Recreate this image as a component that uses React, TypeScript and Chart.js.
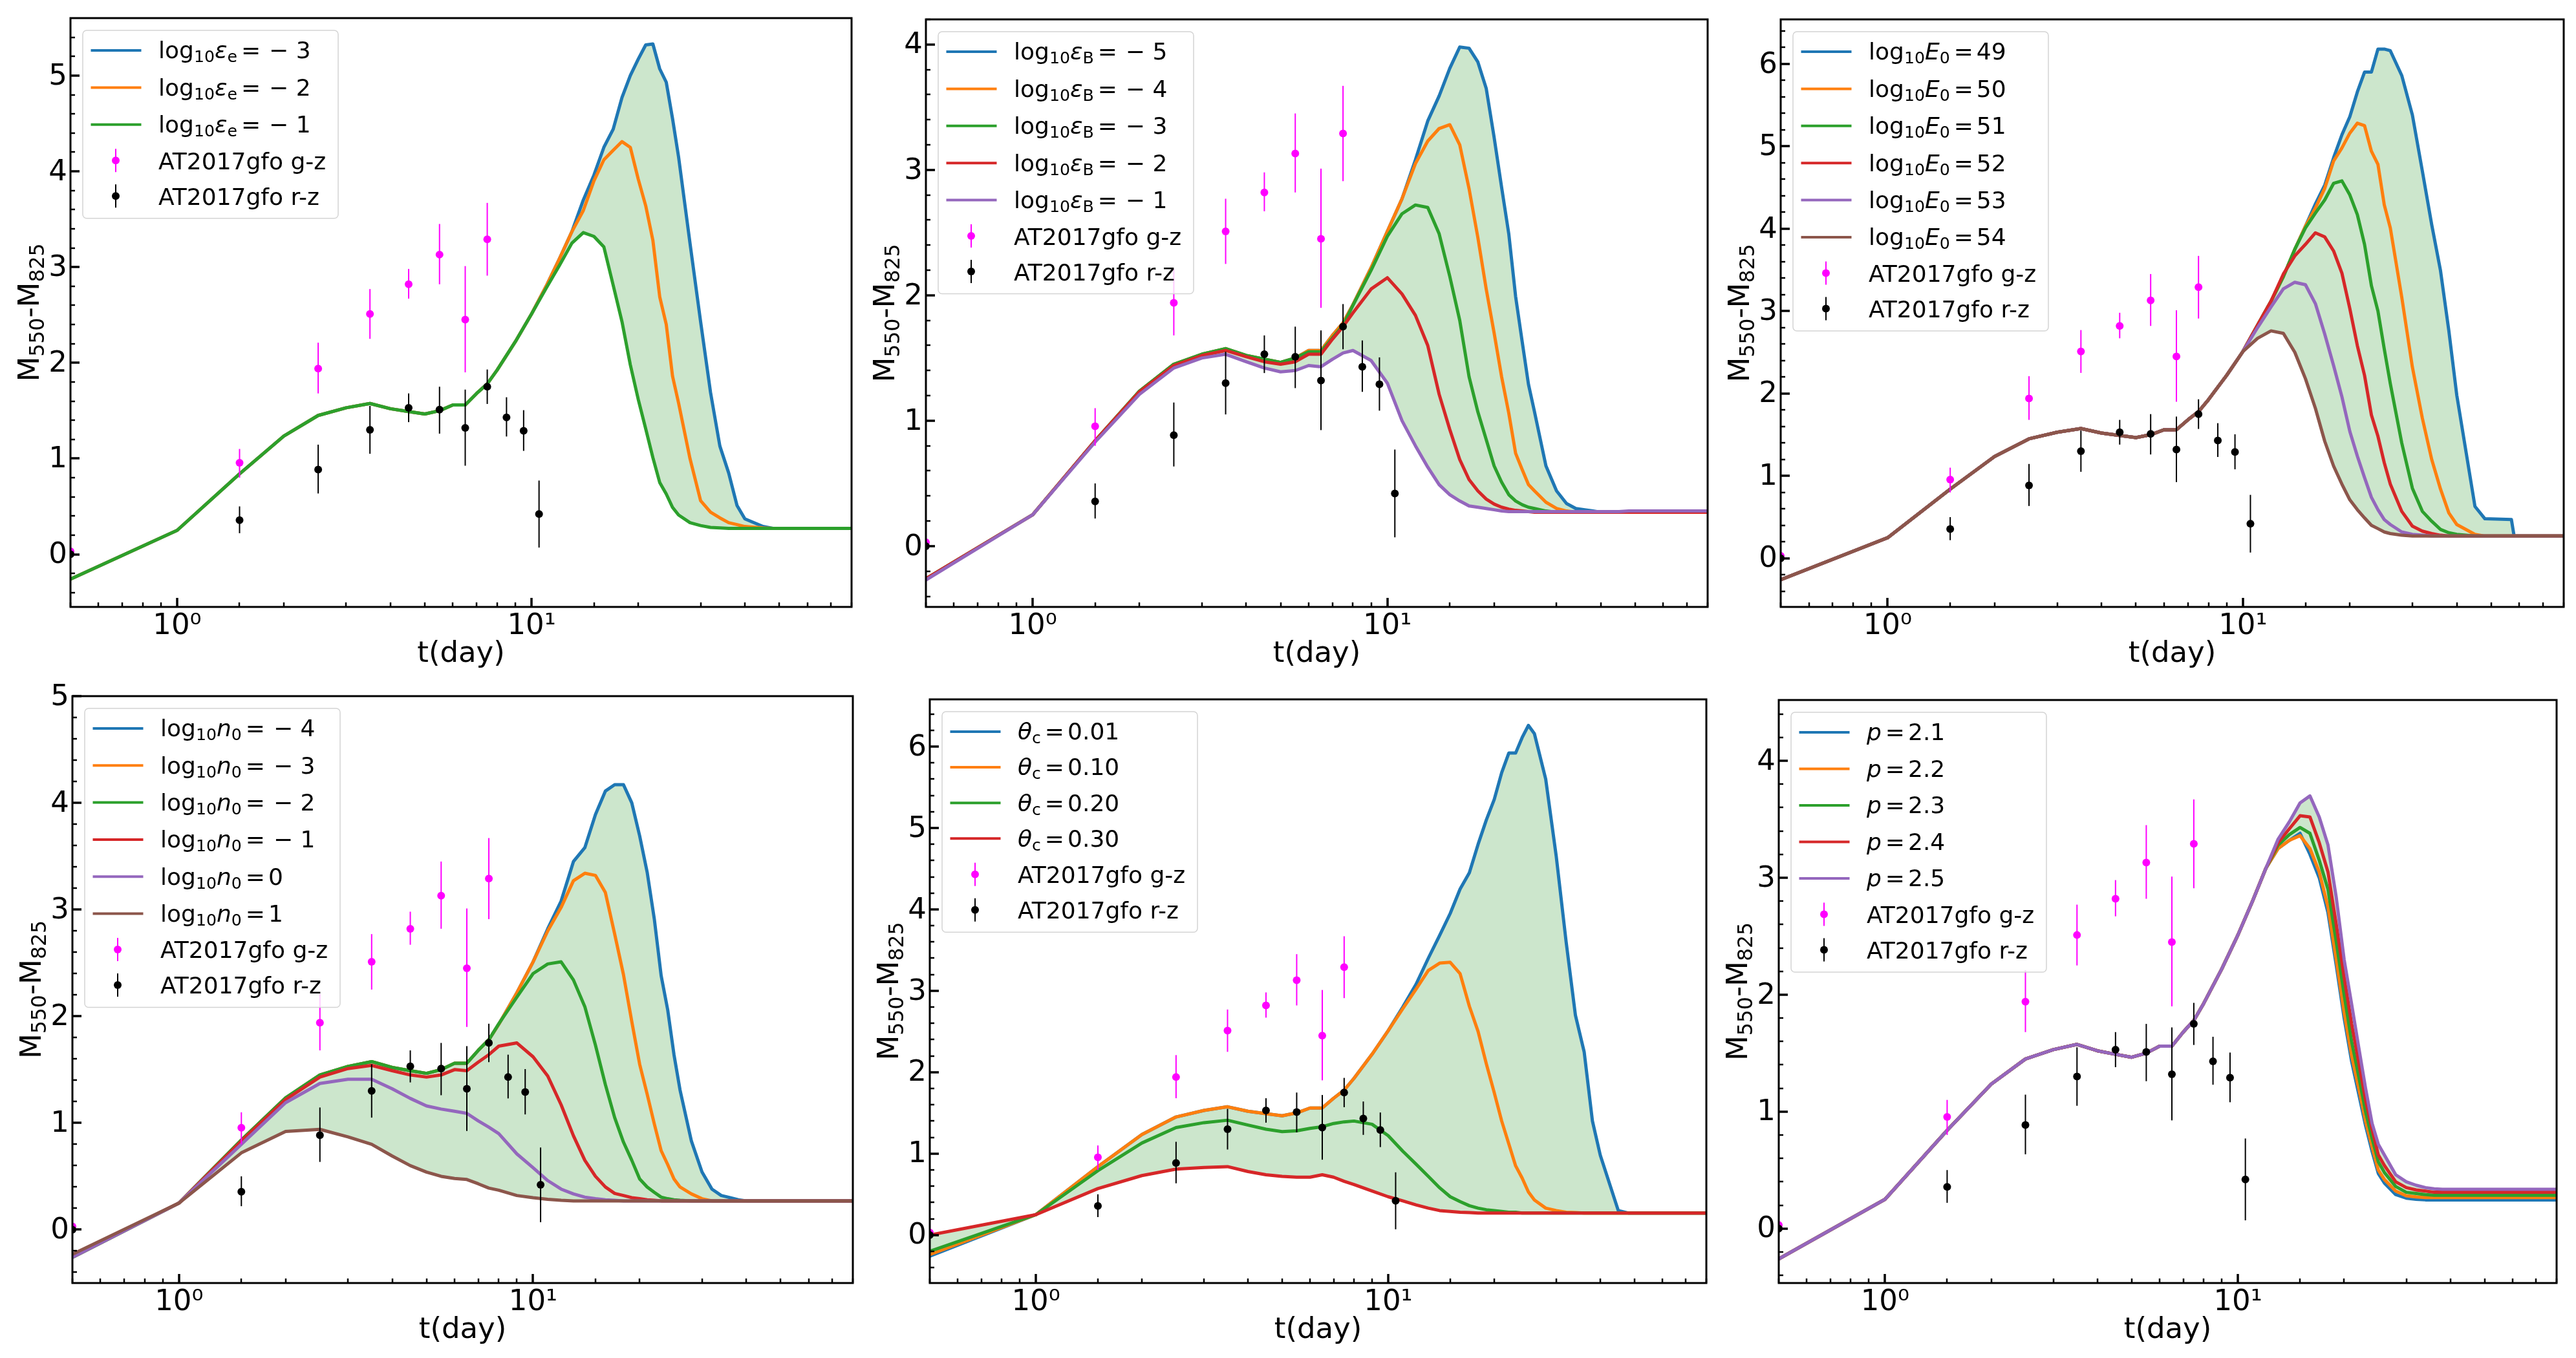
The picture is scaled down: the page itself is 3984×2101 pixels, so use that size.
import React, { useEffect, useRef } from 'react'
import Chart from 'chart.js/auto'

const FONT = '"DejaVu Sans"'
const COLORS = ['#1f77b4', '#ff7f0e', '#2ca02c', '#d62728', '#9467bd', '#8c564b']

// days, shared by every model curve
const T = [
  0.5, 1, 1.5, 2, 2.5, 3, 3.5, 4, 4.5, 5, 5.5, 6, 6.5, 7, 7.5, 8, 9, 10,
  11, 12, 13, 14, 15, 16, 17, 18, 19, 20, 21, 22, 23, 24, 25, 26, 28, 30, 32, 34, 36, 38, 40, 45, 48, 57, 58, 80,
]

// common early part of the curve (t <= 10)
const EARLY = [-0.26, 0.25, 0.84, 1.235, 1.45, 1.53, 1.575, 1.52, 1.49, 1.465, 1.5, 1.56, 1.56, 1.68, 1.78, 1.925, 2.22, 2.51]

// epsilon_e panel
const EE_3 = [...EARLY, 2.8, 3.09, 3.37, 3.7, 3.96, 4.25, 4.44, 4.77, 5.0, 5.17, 5.32, 5.33, 5.07, 4.93, 4.55, 4.15, 3.25, 2.43, 1.69, 1.13, 0.85, 0.51, 0.37, 0.29, 0.27, 0.27, 0.27, 0.27]
const EE_2 = [...EARLY, 2.8, 3.09, 3.37, 3.59, 3.9, 4.12, 4.22, 4.31, 4.25, 3.92, 3.64, 3.28, 2.69, 2.4, 1.86, 1.58, 1.0, 0.56, 0.44, 0.38, 0.33, 0.31, 0.29, 0.275, 0.27, 0.27, 0.27, 0.27]
const EE_1 = [...EARLY, 2.78, 3.02, 3.25, 3.36, 3.32, 3.21, 2.81, 2.43, 1.98, 1.62, 1.31, 1.01, 0.75, 0.63, 0.49, 0.41, 0.33, 0.3, 0.28, 0.275, 0.27, 0.27, 0.27, 0.27, 0.27, 0.27, 0.27, 0.27]

// epsilon_B panel
const EB_5 = [...EARLY, 2.77, 3.08, 3.39, 3.59, 3.81, 3.98, 3.97, 3.86, 3.65, 3.26, 2.86, 2.49, 1.99, 1.63, 1.29, 1.07, 0.64, 0.44, 0.34, 0.3, 0.29, 0.28, 0.27, 0.27, 0.27, 0.27, 0.27, 0.27]
const EB_4 = [...EARLY, 2.77, 3.05, 3.23, 3.33, 3.36, 3.2, 2.85, 2.46, 2.05, 1.7, 1.35, 1.06, 0.74, 0.61, 0.49, 0.44, 0.35, 0.3, 0.28, 0.27, 0.27, 0.27, 0.27, 0.27, 0.27, 0.27, 0.27, 0.27]
const EB_3 = [-0.26, 0.25, 0.84, 1.235, 1.45, 1.53, 1.575, 1.52, 1.49, 1.465, 1.5, 1.55, 1.55, 1.66, 1.76, 1.92, 2.2, 2.47, 2.65, 2.72, 2.7, 2.49, 2.15, 1.8, 1.35, 1.07, 0.85, 0.64, 0.51, 0.41, 0.36, 0.33, 0.31, 0.3, 0.28, 0.27, 0.27, 0.27, 0.27, 0.27, 0.27, 0.27, 0.27, 0.27, 0.27, 0.27]
const EB_2 = [-0.26, 0.25, 0.84, 1.23, 1.44, 1.52, 1.56, 1.51, 1.47, 1.45, 1.47, 1.53, 1.53, 1.65, 1.75, 1.86, 2.05, 2.14, 2.01, 1.84, 1.6, 1.21, 0.93, 0.69, 0.53, 0.44, 0.375, 0.335, 0.31, 0.295, 0.285, 0.28, 0.275, 0.27, 0.27, 0.27, 0.27, 0.27, 0.27, 0.27, 0.27, 0.27, 0.27, 0.27, 0.27, 0.27]
const EB_1 = [-0.27, 0.25, 0.83, 1.21, 1.42, 1.5, 1.53, 1.47, 1.42, 1.39, 1.4, 1.44, 1.43, 1.49, 1.54, 1.56, 1.48, 1.3, 1.0, 0.8, 0.63, 0.49, 0.41, 0.36, 0.32, 0.31, 0.3, 0.29, 0.28, 0.275, 0.275, 0.275, 0.275, 0.275, 0.275, 0.275, 0.275, 0.275, 0.275, 0.275, 0.275, 0.275, 0.28, 0.28, 0.28, 0.28]

// E_0 panel
const E0_49 = [...EARLY, 2.83, 3.12, 3.42, 3.75, 4.03, 4.3, 4.53, 4.86, 5.14, 5.36, 5.66, 5.9, 5.9, 6.18, 6.18, 6.16, 5.86, 5.38, 4.7, 4.05, 3.49, 2.76, 1.98, 0.63, 0.48, 0.47, 0.27, 0.27]
const E0_50 = [...EARLY, 2.83, 3.12, 3.42, 3.75, 4.03, 4.25, 4.49, 4.82, 4.98, 5.16, 5.28, 5.25, 4.94, 4.78, 4.29, 4.01, 3.17, 2.32, 1.7, 1.2, 0.84, 0.55, 0.41, 0.29, 0.27, 0.27, 0.27, 0.27]
const E0_51 = [...EARLY, 2.83, 3.12, 3.42, 3.75, 4.01, 4.19, 4.35, 4.55, 4.58, 4.41, 4.17, 3.81, 3.31, 3.0, 2.54, 2.12, 1.4, 0.85, 0.57, 0.45, 0.35, 0.31, 0.29, 0.27, 0.27, 0.27, 0.27, 0.27]
const E0_52 = [...EARLY, 2.83, 3.12, 3.45, 3.67, 3.81, 3.95, 3.9, 3.73, 3.46, 3.03, 2.58, 2.22, 1.74, 1.48, 1.16, 0.9, 0.57, 0.39, 0.33, 0.3, 0.28, 0.27, 0.27, 0.27, 0.27, 0.27, 0.27, 0.27]
const E0_53 = [...EARLY, 2.8, 3.05, 3.27, 3.35, 3.32, 3.09, 2.72, 2.34, 1.96, 1.54, 1.24, 0.98, 0.74, 0.59, 0.47, 0.41, 0.32, 0.29, 0.28, 0.27, 0.27, 0.27, 0.27, 0.27, 0.27, 0.27, 0.27, 0.27]
const E0_54 = [...EARLY, 2.67, 2.76, 2.73, 2.5, 2.18, 1.82, 1.42, 1.12, 0.9, 0.71, 0.59, 0.49, 0.4, 0.36, 0.32, 0.3, 0.28, 0.27, 0.27, 0.27, 0.27, 0.27, 0.27, 0.27, 0.27, 0.27, 0.27, 0.27]

// n_0 panel
const N0_M4 = [...EARLY, 2.82, 3.08, 3.45, 3.58, 3.89, 4.11, 4.17, 4.17, 4.0, 3.69, 3.35, 2.91, 2.38, 2.06, 1.64, 1.31, 0.83, 0.54, 0.38, 0.32, 0.3, 0.28, 0.27, 0.27, 0.27, 0.27, 0.27, 0.27]
const N0_M3 = [...EARLY, 2.8, 3.02, 3.27, 3.34, 3.32, 3.16, 2.77, 2.39, 1.95, 1.55, 1.27, 0.99, 0.74, 0.61, 0.475, 0.4, 0.335, 0.29, 0.27, 0.27, 0.27, 0.27, 0.27, 0.27, 0.27, 0.27, 0.27, 0.27]
const N0_M2 = [-0.26, 0.25, 0.84, 1.235, 1.45, 1.53, 1.575, 1.52, 1.49, 1.465, 1.5, 1.56, 1.56, 1.68, 1.78, 1.93, 2.18, 2.4, 2.49, 2.51, 2.34, 2.09, 1.73, 1.36, 1.05, 0.82, 0.65, 0.475, 0.4, 0.35, 0.305, 0.29, 0.28, 0.275, 0.27, 0.27, 0.27, 0.27, 0.27, 0.27, 0.27, 0.27, 0.27, 0.27, 0.27, 0.27]
const N0_M1 = [-0.25, 0.25, 0.83, 1.22, 1.43, 1.51, 1.54, 1.49, 1.45, 1.43, 1.45, 1.5, 1.49, 1.57, 1.64, 1.72, 1.75, 1.62, 1.44, 1.17, 0.88, 0.65, 0.5, 0.4, 0.34, 0.32, 0.3, 0.29, 0.28, 0.275, 0.27, 0.27, 0.27, 0.27, 0.27, 0.27, 0.27, 0.27, 0.27, 0.27, 0.27, 0.27, 0.27, 0.27, 0.27, 0.27]
const N0_0 = [-0.26, 0.25, 0.8, 1.19, 1.37, 1.41, 1.41, 1.32, 1.23, 1.16, 1.13, 1.11, 1.09, 1.02, 0.96, 0.9, 0.71, 0.58, 0.46, 0.38, 0.335, 0.305, 0.29, 0.28, 0.275, 0.27, 0.27, 0.27, 0.27, 0.27, 0.27, 0.27, 0.27, 0.27, 0.27, 0.27, 0.27, 0.27, 0.27, 0.27, 0.27, 0.27, 0.27, 0.27, 0.27, 0.27]
const N0_1 = [-0.23, 0.25, 0.72, 0.92, 0.94, 0.87, 0.8, 0.69, 0.6, 0.54, 0.5, 0.48, 0.47, 0.43, 0.39, 0.37, 0.32, 0.3, 0.285, 0.275, 0.27, 0.27, 0.27, 0.27, 0.27, 0.27, 0.27, 0.27, 0.27, 0.27, 0.27, 0.27, 0.27, 0.27, 0.27, 0.27, 0.27, 0.27, 0.27, 0.27, 0.27, 0.27, 0.27, 0.27, 0.27, 0.27]

// theta_c panel
const TC_01 = [...EARLY, 2.8, 3.08, 3.4, 3.68, 3.95, 4.25, 4.45, 4.8, 5.1, 5.35, 5.68, 5.92, 5.92, 6.11, 6.26, 6.16, 5.6, 4.65, 3.6, 2.7, 2.25, 1.4, 0.98, 0.3, 0.27, 0.27, 0.27, 0.27]
const TC_10 = [-0.24, 0.25, 0.84, 1.235, 1.45, 1.53, 1.575, 1.52, 1.49, 1.465, 1.5, 1.56, 1.56, 1.68, 1.78, 1.925, 2.22, 2.51, 2.78, 3.02, 3.25, 3.34, 3.35, 3.21, 2.81, 2.5, 2.1, 1.75, 1.4, 1.12, 0.85, 0.7, 0.53, 0.43, 0.33, 0.3, 0.28, 0.275, 0.27, 0.27, 0.27, 0.27, 0.27, 0.27, 0.27, 0.27]
const TC_20 = [-0.2, 0.25, 0.79, 1.13, 1.32, 1.38, 1.41, 1.35, 1.3, 1.27, 1.28, 1.31, 1.33, 1.37, 1.39, 1.4, 1.36, 1.22, 1.03, 0.87, 0.72, 0.58, 0.47, 0.41, 0.36, 0.33, 0.31, 0.3, 0.29, 0.28, 0.28, 0.27, 0.27, 0.27, 0.27, 0.27, 0.27, 0.27, 0.27, 0.27, 0.27, 0.27, 0.27, 0.27, 0.27, 0.27]
const TC_30 = [0.0, 0.25, 0.57, 0.73, 0.81, 0.83, 0.84, 0.78, 0.74, 0.72, 0.71, 0.71, 0.74, 0.71, 0.66, 0.62, 0.54, 0.47, 0.42, 0.37, 0.33, 0.3, 0.29, 0.28, 0.275, 0.27, 0.27, 0.27, 0.27, 0.27, 0.27, 0.27, 0.27, 0.27, 0.27, 0.27, 0.27, 0.27, 0.27, 0.27, 0.27, 0.27, 0.27, 0.27, 0.27, 0.27]

// p panel
const P_21 = [...EARLY, 2.8, 3.08, 3.25, 3.32, 3.38, 3.2, 3.0, 2.7, 2.25, 1.8, 1.43, 1.15, 0.88, 0.66, 0.47, 0.39, 0.29, 0.26, 0.25, 0.245, 0.245, 0.245, 0.245, 0.245, 0.245, 0.245, 0.245, 0.245]
const P_22 = [...EARLY, 2.8, 3.08, 3.25, 3.32, 3.36, 3.25, 3.05, 2.75, 2.3, 1.85, 1.48, 1.2, 0.92, 0.7, 0.5, 0.42, 0.32, 0.28, 0.27, 0.265, 0.265, 0.265, 0.265, 0.265, 0.265, 0.265, 0.265, 0.265]
const P_23 = [...EARLY, 2.8, 3.08, 3.28, 3.37, 3.43, 3.38, 3.15, 2.9, 2.45, 2.0, 1.6, 1.3, 1.0, 0.77, 0.57, 0.48, 0.36, 0.31, 0.3, 0.29, 0.285, 0.285, 0.285, 0.285, 0.285, 0.285, 0.285, 0.285]
const P_24 = [...EARLY, 2.8, 3.08, 3.3, 3.42, 3.53, 3.52, 3.3, 3.05, 2.6, 2.15, 1.75, 1.42, 1.1, 0.85, 0.63, 0.54, 0.4, 0.35, 0.33, 0.32, 0.31, 0.31, 0.31, 0.31, 0.31, 0.31, 0.31, 0.31]
const P_25 = [...EARLY, 2.8, 3.08, 3.33, 3.48, 3.64, 3.7, 3.52, 3.28, 2.83, 2.3, 1.92, 1.55, 1.2, 0.9, 0.72, 0.63, 0.46, 0.4, 0.37, 0.35, 0.34, 0.335, 0.335, 0.335, 0.335, 0.335, 0.335, 0.335]

// AT2017gfo colours
const GZ_T = [0.5, 1.5, 2.5, 3.5, 4.5, 5.5, 6.5, 7.5]
const GZ = [0.03, 0.955, 1.94, 2.51, 2.82, 3.13, 2.45, 3.29]
const GZ_LO = [0.03, 0.8, 1.68, 2.25, 2.67, 2.82, 1.9, 2.91]
const GZ_HI = [0.03, 1.1, 2.21, 2.77, 2.98, 3.45, 3.01, 3.67]

const RZ_T = [0.5, 1.5, 2.5, 3.5, 4.5, 5.5, 6.5, 7.5, 8.5, 9.5, 10.5]
const RZ = [0, 0.356, 0.885, 1.3, 1.53, 1.51, 1.32, 1.75, 1.43, 1.29, 0.42]
const RZ_LO = [0, 0.22, 0.635, 1.05, 1.38, 1.26, 0.925, 1.57, 1.23, 1.08, 0.07]
const RZ_HI = [0, 0.5, 1.145, 1.55, 1.68, 1.75, 1.72, 1.93, 1.64, 1.505, 0.77]

const X_MIN = 0.5
const X_MAX = 80
const Y_LABEL_W = 100
const X_LABEL_H = 100
const PAD_TOP = 40
const PAD_RIGHT = 14

interface Panel {
  rect: number[] // left, top, right, bottom of the axes in page pixels
  yMin: number
  yMax: number
  curves: number[][]
  log: boolean
  symbol: string
  symbolSub: string
  values: string[]
  rowGap: number
}

const PANELS: Panel[] = [
  { rect: [109, 28, 1317, 939], yMin: -0.55, yMax: 5.6, curves: [EE_3, EE_2, EE_1], log: true, symbol: 'ε', symbolSub: 'e', values: ['− 3', '− 2', '− 1'], rowGap: 57.4 },
  { rect: [1432, 30, 2641, 939], yMin: -0.485, yMax: 4.2, curves: [EB_5, EB_4, EB_3, EB_2, EB_1], log: true, symbol: 'ε', symbolSub: 'B', values: ['− 5', '− 4', '− 3', '− 2', '− 1'], rowGap: 57.4 },
  { rect: [2754, 30, 3965, 939], yMin: -0.59, yMax: 6.54, curves: [E0_49, E0_50, E0_51, E0_52, E0_53, E0_54], log: true, symbol: 'E', symbolSub: '0', values: ['49', '50', '51', '52', '53', '54'], rowGap: 57.4 },
  { rect: [112, 1077, 1319, 1985], yMin: -0.5, yMax: 5, curves: [N0_M4, N0_M3, N0_M2, N0_M1, N0_0, N0_1], log: true, symbol: 'n', symbolSub: '0', values: ['− 4', '− 3', '− 2', '− 1', '0', '1'], rowGap: 57.3 },
  { rect: [1438, 1082, 2639, 1985], yMin: -0.59, yMax: 6.58, curves: [TC_01, TC_10, TC_20, TC_30], log: false, symbol: 'θ', symbolSub: 'c', values: ['0.01', '0.10', '0.20', '0.30'], rowGap: 55.1 },
  { rect: [2751, 1083, 3954, 1985], yMin: -0.466, yMax: 4.52, curves: [P_21, P_22, P_23, P_24, P_25], log: false, symbol: 'p', symbolSub: '', values: ['2.1', '2.2', '2.3', '2.4', '2.5'], rowGap: 56.5 },
]

type Run = { t: string; sub?: boolean; it?: boolean; gap?: number }

// draws mathtext-like pieces on one baseline, returns the end x
const drawRuns = (ctx: CanvasRenderingContext2D, runs: Run[], x: number, y: number, size: number, drop: number) => {
  let cx = x
  runs.forEach((r) => {
    cx += r.gap ?? 0
    const s = r.sub ? size * 0.7 : size
    ctx.font = `${r.it ? 'italic ' : ''}${s}px ${FONT}`
    ctx.fillText(r.t, cx, r.sub ? y + drop : y)
    cx += ctx.measureText(r.t).width
  })
  return cx
}

const runsWidth = (ctx: CanvasRenderingContext2D, runs: Run[], size: number) => {
  let w = 0
  runs.forEach((r) => {
    ctx.font = `${r.it ? 'italic ' : ''}${r.sub ? size * 0.7 : size}px ${FONT}`
    w += ctx.measureText(r.t).width + (r.gap ?? 0)
  })
  return w
}

const isInt = (v: number) => Math.abs(v - Math.round(v)) < 1e-6
const isDecade = (v: number) => Math.abs(v - 1) < 1e-9 || Math.abs(v - 10) < 1e-9

const framePlugin = (panel: Panel) => ({
  id: 'frame',
  afterDatasetsDraw(chart: any) {
    const ctx: CanvasRenderingContext2D = chart.ctx
    const { left, right, top, bottom } = chart.chartArea
    const xs = chart.scales.x
    const ys = chart.scales.y
    ctx.save()

    // error bars
    ctx.lineWidth = 2
    const bars = (tt: number[], lo: number[], hi: number[], col: string) => {
      ctx.strokeStyle = col
      tt.forEach((t, i) => {
        const px = xs.getPixelForValue(t)
        ctx.beginPath()
        ctx.moveTo(px, ys.getPixelForValue(lo[i]))
        ctx.lineTo(px, ys.getPixelForValue(hi[i]))
        ctx.stroke()
      })
    }
    bars(GZ_T, GZ_LO, GZ_HI, '#ff00ff')
    bars(RZ_T, RZ_LO, RZ_HI, '#000000')

    // inward ticks
    ctx.strokeStyle = '#000'
    xs.ticks.forEach((tick: any) => {
      const major = isDecade(tick.value)
      const px = Math.round(xs.getPixelForValue(tick.value))
      ctx.lineWidth = major ? 3.5 : 2.5
      ctx.beginPath()
      ctx.moveTo(px, bottom)
      ctx.lineTo(px, bottom - (major ? 14 : 7))
      ctx.stroke()
    })
    ys.ticks.forEach((tick: any) => {
      const major = isInt(tick.value)
      const py = Math.round(ys.getPixelForValue(tick.value))
      ctx.lineWidth = major ? 3.5 : 2.5
      ctx.beginPath()
      ctx.moveTo(left, py)
      ctx.lineTo(left + (major ? 14 : 7), py)
      ctx.stroke()
    })

    // spines
    ctx.lineWidth = 3
    ctx.strokeRect(left, top, right - left, bottom - top)

    // y axis label
    ctx.fillStyle = '#000'
    ctx.textBaseline = 'alphabetic'
    ctx.textAlign = 'left'
    const yRuns: Run[] = [{ t: 'M' }, { t: '550', sub: true }, { t: '-' }, { t: 'M' }, { t: '825', sub: true }]
    const w = runsWidth(ctx, yRuns, 45)
    ctx.save()
    ctx.translate(left - 49, (top + bottom) / 2)
    ctx.rotate(-Math.PI / 2)
    drawRuns(ctx, yRuns, -w / 2, 0, 45, 7.5)
    ctx.restore()

    // legend
    const rows = panel.values.length
    const boxL = left + 19
    const boxT = top + 19
    const firstY = boxT + 31
    const lastMath = firstY + (rows - 1) * panel.rowGap
    const gzY = lastMath + 55.5
    const rzY = gzY + 55
    ctx.beginPath()
    ctx.roundRect(boxL, boxT, 395, rzY + 34.5 - boxT, 6)
    ctx.fillStyle = 'rgba(255,255,255,0.8)'
    ctx.fill()
    ctx.strokeStyle = '#d4d4d4'
    ctx.lineWidth = 1.5
    ctx.stroke()

    const textX = left + 136
    panel.values.forEach((val, i) => {
      const y = firstY + i * panel.rowGap
      ctx.strokeStyle = COLORS[i]
      ctx.lineWidth = 4
      ctx.beginPath()
      ctx.moveTo(left + 31.5, y)
      ctx.lineTo(left + 109.5, y)
      ctx.stroke()
      ctx.fillStyle = '#000'
      const runs: Run[] = []
      if (panel.log) runs.push({ t: 'log' }, { t: '10', sub: true })
      runs.push({ t: panel.symbol, it: true })
      if (panel.symbolSub) runs.push({ t: panel.symbolSub, sub: true })
      runs.push({ t: '=', gap: 6 })
      runs.push({ t: val, gap: val.startsWith('−') ? 13 : 5 })
      drawRuns(ctx, runs, textX, y + 12.3, 36, 6)
    })

    const errRow = (y: number, col: string, label: string) => {
      ctx.strokeStyle = col
      ctx.fillStyle = col
      ctx.lineWidth = 2
      ctx.beginPath()
      ctx.moveTo(left + 70, y - 18)
      ctx.lineTo(left + 70, y + 18)
      ctx.stroke()
      ctx.beginPath()
      ctx.arc(left + 70, y, 6, 0, Math.PI * 2)
      ctx.fill()
      ctx.fillStyle = '#000'
      ctx.font = `36px ${FONT}`
      ctx.fillText(label, textX, y + 13.4)
    }
    errRow(gzY, '#ff00ff', 'AT2017gfo g-z')
    errRow(rzY, '#000000', 'AT2017gfo r-z')
    ctx.restore()
  },
})

const PanelChart = ({ panel }: { panel: Panel }) => {
  const chartRef = useRef<HTMLCanvasElement>(null)
  const [l, t, r, b] = panel.rect
  const width = r - l + Y_LABEL_W + PAD_RIGHT
  const height = b - t + PAD_TOP + X_LABEL_H

  useEffect(() => {
    if (!chartRef.current) return
    const n = panel.curves.length
    const lines = panel.curves.map((vals, i) => ({
      data: T.map((x, k) => ({ x, y: vals[k] })),
      borderColor: COLORS[i],
      borderWidth: 5,
      pointRadius: 0,
      tension: 0,
      borderJoinStyle: 'round' as const,
      order: n - i + 2,
      fill: i === 0 ? { target: n - 1 } : false,
      backgroundColor: 'rgba(0,128,0,0.2)',
    }))
    const points = (tt: number[], yy: number[], col: string, order: number) => ({
      data: tt.map((x, k) => ({ x, y: yy[k] })),
      showLine: false,
      pointRadius: 6,
      pointBorderWidth: 0,
      pointBackgroundColor: col,
      order,
      fill: false,
      clip: 0,
    })
    const chart = new Chart(chartRef.current, {
      type: 'line',
      data: {
        datasets: [...lines, points(GZ_T, GZ, '#ff00ff', 1), points(RZ_T, RZ, '#000000', 0)] as any,
      },
      options: {
        responsive: false,
        animation: false,
        devicePixelRatio: 1,
        layout: { padding: { top: PAD_TOP, right: PAD_RIGHT, left: 0, bottom: 0 } },
        plugins: { legend: { display: false }, tooltip: { enabled: false } },
        scales: {
          x: {
            type: 'logarithmic',
            min: X_MIN,
            max: X_MAX,
            grid: { display: false, drawTicks: false },
            border: { display: false },
            afterFit: (s: any) => {
              s.height = X_LABEL_H
              s.paddingLeft = s.paddingRight = s.paddingTop = s.paddingBottom = 0
            },
            ticks: {
              autoSkip: false,
              maxRotation: 0,
              minRotation: 0,
              padding: 3,
              color: '#000',
              font: { family: FONT, size: 45 },
              callback: (v: any) => (Math.abs(v - 1) < 1e-9 ? '10⁰' : Math.abs(v - 10) < 1e-9 ? '10¹' : ''),
            },
            title: { display: true, text: 't(day)', color: '#000', font: { family: FONT, size: 45 }, padding: { top: 0, bottom: 0 } },
          },
          y: {
            type: 'linear',
            min: panel.yMin,
            max: panel.yMax,
            grid: { display: false, drawTicks: false },
            border: { display: false },
            afterFit: (s: any) => {
              s.width = Y_LABEL_W
              s.paddingLeft = s.paddingRight = s.paddingTop = s.paddingBottom = 0
            },
            ticks: {
              stepSize: 0.2,
              includeBounds: false,
              autoSkip: false,
              padding: 5,
              labelOffset: 2,
              color: '#000',
              font: { family: FONT, size: 45 },
              callback: (v: any) => (isInt(v) ? String(Math.round(v)) : ''),
            },
          },
        },
      },
      plugins: [framePlugin(panel)],
    } as any)
    return () => chart.destroy()
  }, [panel])

  return (
    <canvas
      ref={chartRef}
      width={width}
      height={height}
      style={{ position: 'absolute', left: l - Y_LABEL_W, top: t - PAD_TOP, width, height }}
    />
  )
}

const App = () => (
  <div style={{ position: 'absolute', left: 0, top: 0, width: 3984, height: 2101, background: '#fff', overflow: 'hidden' }}>
    {PANELS.map((p, i) => (
      <PanelChart key={i} panel={p} />
    ))}
  </div>
)

export default App
